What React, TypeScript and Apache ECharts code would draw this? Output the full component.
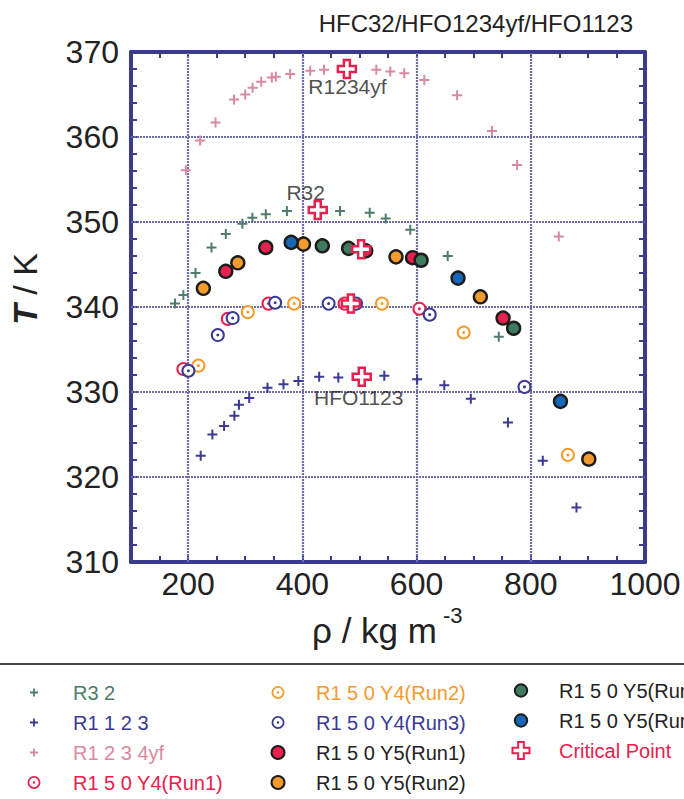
import React, { useEffect, useRef } from 'react';
import * as echarts from 'echarts';

// ---- data: [density (kg m^-3), temperature (K)] ----
const r32 = [[177, 340.4], [191.7, 341.4], [213, 344.0], [241, 347.0], [266, 348.6], [295, 349.8], [312.6, 350.5], [336, 350.9], [373, 351.3], [466, 351.3], [518, 351.1], [546, 350.4], [589, 349.1], [654.5, 346.0], [744, 336.5]];
const r1123 = [[222, 322.5], [242.5, 325.0], [263, 326.0], [281, 327.2], [289, 328.5], [307, 329.3], [339, 330.5], [367, 330.9], [393, 331.3], [429.5, 331.8], [463, 331.7], [543.5, 331.9], [601, 331.5], [648.6, 330.8], [695, 329.2], [760, 326.4], [821, 321.9], [880, 316.4]];
const r1234yf = [[196, 356.1], [221, 359.6], [248, 361.7], [280.5, 364.4], [300, 365.0], [313, 365.8], [328, 366.5], [346.6, 367.0], [353.6, 367.1], [378.7, 367.4], [413.8, 367.8], [438, 367.9], [529.5, 367.9], [554, 367.7], [578.5, 367.5], [613.6, 366.7], [671, 364.9], [732, 360.7], [776, 356.7], [849, 348.3]];
const y4run1 = [[191.7, 332.7], [269.5, 338.6], [340.7, 340.4], [474, 340.4], [605, 339.8]];
const y4run2 = [[218, 333.1], [304.5, 339.4], [385.7, 340.4], [539.4, 340.4], [682.5, 337.0], [865, 322.6]];
const y4run3 = [[200.5, 332.5], [252, 336.7], [278, 338.7], [352.4, 340.5], [446, 340.4], [494, 340.4], [623, 339.1], [789, 330.6]];
const y5run1 = [[266, 344.2], [336, 347.0], [511, 346.6], [593, 345.8], [751.5, 338.7]];
const y5run2 = [[226.7, 342.2], [287, 345.2], [402, 347.4], [564, 345.9], [711.7, 341.2], [901.6, 322.1]];
const y5run3 = [[435, 347.2], [481, 346.9], [608, 345.5], [770, 337.5]];
const y5run4 = [[380.5, 347.6], [672.6, 343.4], [852, 328.9]];
const critical = [[478, 368.0], [427, 351.4], [503, 346.8], [485, 340.4], [504, 331.8]];

const annotations = [[409.7, 365.9, 'R1234yf'], [371.2, 353.5, 'R32'], [419.5, 329.35, 'HFO1123']];

const xGridValues = [200, 400, 600, 800];
const yGridValues = [320, 330, 340, 350, 360];

// ---- styles ----
const FONT = '"Liberation Sans", Arial, sans-serif';
const AXIS = '#3b3b8e';
const GREEN = '#4f7d6b';
const NAVY = '#3a3a96';
const PINK = '#d98aa1';
const RED = '#e8204e';
const ORANGE = '#f59b2e';
const GREEN_F = '#3f7a5e';
const BLUE = '#1766b8';

const PLUS = 'path://M4,0 L6,0 L6,4 L10,4 L10,6 L6,6 L6,10 L4,10 L4,6 L0,6 L0,4 L4,4 Z';
const CROSS = 'path://M6,0 L12,0 L12,6 L18,6 L18,12 L12,12 L12,18 L6,18 L6,12 L0,12 L0,6 L6,6 Z';
const PLUS_LEG = 'path://M0,0 L0.001,0 M13,13 L13.001,13 M5.6,2.5 L7.4,2.5 L7.4,5.6 L10.5,5.6 L10.5,7.4 L7.4,7.4 L7.4,10.5 L5.6,10.5 L5.6,7.4 L2.5,7.4 L2.5,5.6 L5.6,5.6 Z';
const RING_LEG = 'path://M6.5,0 A6.5,6.5 0 1 1 6.5,13 A6.5,6.5 0 1 1 6.5,0 Z M6.5,1.8 A4.7,4.7 0 1 0 6.5,11.2 A4.7,4.7 0 1 0 6.5,1.8 Z M6.5,5.3 A1.2,1.2 0 1 1 6.5,7.7 A1.2,1.2 0 1 1 6.5,5.3 Z';
const CIRCLE_LEG17 = 'path://M0,0 L0.001,0 M17,17 L17.001,17 M8.5,2.3 A6.2,6.2 0 1 1 8.5,14.7 A6.2,6.2 0 1 1 8.5,2.3 Z';

const spaced = (name: string) => name.replace(/(\d)(?=[\dY])/g, '$1 ');

function plusSeries(name: string, data: number[][], color: string) {
  return { name, type: 'scatter', data, symbol: PLUS, symbolSize: 10, itemStyle: { color, opacity: 1 }, z: 3 };
}
function ringSeries(name: string, data: number[][], color: string) {
  return [
    { name, type: 'scatter', data, symbol: 'circle', symbolSize: 12, itemStyle: { color: '#ffffff', borderColor: color, borderWidth: 2, opacity: 1 }, z: 4 },
    { name, type: 'scatter', data, symbol: 'circle', symbolSize: 3, itemStyle: { color, opacity: 1 }, z: 4 },
  ];
}
function filledSeries(name: string, data: number[][], color: string) {
  return { name, type: 'scatter', data, symbol: 'circle', symbolSize: 13, itemStyle: { color, borderColor: '#1c1c1c', borderWidth: 2.4, opacity: 1 }, z: 5 };
}

function legendCol(left: number, itemWidth: number, itemHeight: number, top: number, gap: number, data: any[]) {
  return {
    orient: 'vertical', left, top, width: 240, height: 130, padding: 0, itemWidth, itemHeight, itemGap: gap,
    symbolKeepAspect: true, selectedMode: false,
    textStyle: { fontSize: 20, fontFamily: FONT, lineHeight: 13, color: '#222' },
    formatter: spaced,
    data,
  };
}

export default function App() {
  const ref = useRef<HTMLDivElement>(null);
  useEffect(() => {
    if (!ref.current) return;
    const chart = echarts.init(ref.current, undefined, { renderer: 'svg' });
    const xAxisBase = {
      type: 'value', min: 100, max: 1000, interval: 50,
      axisLine: { show: true, onZero: false, lineStyle: { color: AXIS, width: 4 } },
      axisTick: { show: true, inside: true, length: 6, lineStyle: { color: AXIS, width: 2 } },
      splitLine: { show: false },
    };
    const yAxisBase = {
      type: 'value', min: 310, max: 370, interval: 2,
      axisLine: { show: true, onZero: false, lineStyle: { color: AXIS, width: 4 } },
      axisTick: { show: true, inside: true, length: 6, lineStyle: { color: AXIS, width: 2 } },
      splitLine: { show: false },
    };
    const option: any = {
      animation: false,
      textStyle: { fontFamily: FONT },
      title: {
        text: 'HFC32/HFO1234yf/HFO1123', right: 51, top: 11, padding: 0,
        textStyle: { fontSize: 24, fontWeight: 'normal', color: '#222', fontFamily: FONT },
      },
      grid: { left: 131, right: 39, top: 52, bottom: 237, containLabel: false },
      xAxis: [
        { ...xAxisBase, position: 'bottom', axisLabel: { show: true, fontSize: 32, color: '#222', margin: 6, fontFamily: FONT, formatter: (v: number) => (v % 200 === 0 ? String(v) : '') } },
        { ...xAxisBase, position: 'top', axisLabel: { show: false } },
      ],
      yAxis: [
        { ...yAxisBase, position: 'left', axisLabel: { show: true, fontSize: 32, color: '#222', margin: 12, fontFamily: FONT, formatter: (v: number) => (Math.round(v) % 10 === 0 ? String(Math.round(v)) : '') } },
        { ...yAxisBase, position: 'right', axisLabel: { show: false } },
      ],
      legend: [
        legendCol(27.5, 68, 13, 682.5, 10, [
          { name: 'R32', icon: PLUS_LEG, textStyle: { color: GREEN } },
          { name: 'R1123', icon: PLUS_LEG, textStyle: { color: NAVY } },
          { name: 'R1234yf', icon: PLUS_LEG, textStyle: { color: PINK } },
          { name: 'R150Y4(Run1)', icon: RING_LEG, itemStyle: { color: RED, borderWidth: 0 }, textStyle: { color: RED } },
        ]),
        legendCol(270.5, 66, 13, 682.5, 10, [
          { name: 'R150Y4(Run2)', icon: RING_LEG, itemStyle: { color: ORANGE, borderWidth: 0 }, textStyle: { color: ORANGE } },
          { name: 'R150Y4(Run3)', icon: RING_LEG, itemStyle: { color: NAVY, borderWidth: 0 }, textStyle: { color: NAVY } },
          { name: 'R150Y5(Run1)', icon: 'circle', textStyle: { color: '#222' } },
          { name: 'R150Y5(Run2)', icon: 'circle', textStyle: { color: '#222' } },
        ]),
        legendCol(511.5, 66, 17, 680.5, 10, [
          { name: 'R150Y5(Run3)', icon: CIRCLE_LEG17, textStyle: { color: '#222' } },
          { name: 'R150Y5(Run4)', icon: CIRCLE_LEG17, textStyle: { color: '#222' } },
          { name: 'Critical Point', icon: CROSS, textStyle: { color: RED } },
        ]),
      ],
      graphic: [
        { type: 'line', shape: { x1: 0, y1: 664, x2: 684, y2: 664 }, style: { stroke: '#444', lineWidth: 2 } },
        {
          type: 'text', x: 25, y: 289, rotation: Math.PI / 2,
          style: { text: '{i|T} / K', fontSize: 34, fontFamily: FONT, fill: '#222', align: 'center', verticalAlign: 'middle', rich: { i: { fontStyle: 'italic', fontWeight: 'bold', fontSize: 34, fontFamily: FONT, fill: '#222' } } },
        },
        { type: 'text', x: 312, y: 648, style: { text: 'ρ / kg m', fontSize: 35, fontFamily: FONT, fill: '#222', align: 'left', verticalAlign: 'bottom' } },
        { type: 'text', x: 443, y: 604, style: { text: '-3', fontSize: 22, fontFamily: FONT, fill: '#222', align: 'left', verticalAlign: 'top' } },
      ],
      series: [
        {
          name: 'annotations', type: 'scatter', data: annotations, symbolSize: 1, itemStyle: { color: 'transparent' }, z: 2,
          label: { show: true, position: 'right', distance: 0, formatter: (p: any) => p.value[2], fontSize: 21, color: '#222', fontFamily: FONT },
          markLine: {
            silent: true, symbol: ['none', 'none'], label: { show: false }, z: 1,
            lineStyle: { color: '#6d6dab', width: 2.2, type: [2, 1] },
            emphasis: { disabled: true },
            data: [...xGridValues.map((v) => ({ xAxis: v })), ...yGridValues.map((v) => ({ yAxis: v }))],
          },
        },
        plusSeries('R32', r32, GREEN),
        plusSeries('R1123', r1123, NAVY),
        plusSeries('R1234yf', r1234yf, PINK),
        ...ringSeries('R150Y4(Run1)', y4run1, RED),
        ...ringSeries('R150Y4(Run2)', y4run2, ORANGE),
        ...ringSeries('R150Y4(Run3)', y4run3, NAVY),
        filledSeries('R150Y5(Run1)', y5run1, RED),
        filledSeries('R150Y5(Run2)', y5run2, ORANGE),
        filledSeries('R150Y5(Run3)', y5run3, GREEN_F),
        filledSeries('R150Y5(Run4)', y5run4, BLUE),
        { name: 'Critical Point', type: 'scatter', data: critical, symbol: CROSS, symbolSize: 18, itemStyle: { color: '#ffffff', borderColor: RED, borderWidth: 2.5, opacity: 1 }, z: 6 },
      ],
    };
    chart.setOption(option);
    return () => chart.dispose();
  }, []);
  return <div ref={ref} style={{ position: 'absolute', left: 0, top: 0, width: 684, height: 799 }} />;
}
